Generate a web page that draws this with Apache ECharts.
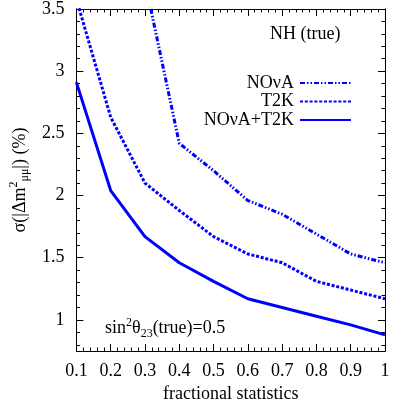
<!DOCTYPE html>
<html>
<head>
<meta charset="utf-8">
<script src="https://cdn.jsdelivr.net/npm/echarts@6/dist/echarts.min.js"></script>
<style>
  html, body { margin: 0; padding: 0; background: #fff; }
  #chart { width: 407px; height: 409px; }
</style>
</head>
<body>
<div id="chart"></div>
<script>
// fractional statistics (x)
const fracStats = [0.1, 0.2, 0.3, 0.4, 0.5, 0.6, 0.7, 0.8, 0.9, 1.0];
// sigma(|dm2_mumu|) in % per experiment setup
const novaVals = [null, null, 3.72, 2.42, 2.2, 1.96, 1.85, 1.69, 1.53, 1.46];
const t2kVals = [3.58, 2.63, 2.1, 1.88, 1.67, 1.53, 1.46, 1.31, 1.24, 1.17];
const combVals = [2.91, 2.04, 1.67, 1.46, 1.31, 1.17, 1.1, 1.03, 0.96, 0.88];
const seriesNames = ['NOνA', 'T2K', 'NOνA+T2K'];
// tick values
const yMajor = [1, 1.5, 2, 2.5, 3, 3.5];
const yMinor = [0.8, 0.9, 1.1, 1.2, 1.3, 1.4, 1.6, 1.7, 1.8, 1.9, 2.1, 2.2, 2.3, 2.4,
  2.6, 2.7, 2.8, 2.9, 3.1, 3.2, 3.3, 3.4];

const font = 'Liberation Serif';
const fs = 18;
const blue = '#0000ff';

function pairs(vals) {
  return fracStats.map((x, i) => [x, vals[i]]);
}

function yAx(pos, ticks, len, labels) {
  return {
    type: 'value', position: pos, min: 0.75, max: 3.5,
    axisLine: { show: true, lineStyle: { color: '#000', width: 1 } },
    axisTick: { show: true, inside: true, length: len, customValues: ticks, lineStyle: { color: '#000' } },
    axisLabel: labels ? { show: true, customValues: ticks, margin: 12, fontFamily: font, fontSize: fs, color: '#000' } : { show: false },
    splitLine: { show: false }
  };
}

let myChart = echarts.init(document.getElementById('chart'));
myChart.setOption({
  animation: false,
  grid: { left: 69, right: 22, top: 9, bottom: 58 },
  xAxis: [
    {
      type: 'value', position: 'bottom', min: 0.1, max: 1, interval: 0.1,
      name: 'fractional statistics', nameLocation: 'middle', nameGap: 31,
      nameTextStyle: { fontFamily: font, fontSize: fs, color: '#000' },
      axisLine: { lineStyle: { color: '#000' } },
      axisTick: { inside: true, length: 7, lineStyle: { color: '#000' } },
      minorTick: { show: true, splitNumber: 5, length: 3.5, lineStyle: { color: '#000' } },
      axisLabel: { margin: 11, fontFamily: font, fontSize: fs, color: '#000' },
      splitLine: { show: false }
    },
    {
      type: 'value', position: 'top', min: 0.1, max: 1, interval: 0.1,
      axisLine: { show: true, lineStyle: { color: '#000' } },
      axisTick: { inside: true, length: 7, lineStyle: { color: '#000' } },
      minorTick: { show: true, splitNumber: 5, length: 3.5, lineStyle: { color: '#000' } },
      axisLabel: { show: false },
      splitLine: { show: false }
    }
  ],
  yAxis: [
    Object.assign(yAx('left', yMajor, 7, true), {
      name: '{t|σ(|Δm}{sup|2}{sub|μμ}{t||) (%)}',
      nameLocation: 'middle', nameRotate: 90, nameGap: 44,
      nameTextStyle: {
        fontFamily: font, fontSize: fs, color: '#000',
        rich: {
          t: { fontFamily: font, fontSize: fs, color: '#000' },
          sup: { fontFamily: font, fontSize: 12, color: '#000', padding: [0, 0, 12, 0] },
          sub: { fontFamily: font, fontSize: 12, color: '#000', padding: [10, 0, 0, 0] }
        }
      }
    }),
    yAx('right', yMajor, 7, false),
    yAx('left', yMinor, 3.5, false),
    yAx('right', yMinor, 3.5, false)
  ],
  legend: {
    orient: 'vertical', align: 'right', right: 50, top: 69,
    itemWidth: 51, itemHeight: 10, itemGap: 0.5,
    itemStyle: { opacity: 0 },
    textStyle: { fontFamily: font, fontSize: fs, color: '#000', lineHeight: 18, padding: [0, 1, 0, 0] },
    data: seriesNames
  },
  graphic: [
    {
      type: 'text', left: 270, top: 25,
      style: { text: 'NH (true)', font: fs + 'px "Liberation Serif"', fill: '#000' }
    },
    {
      type: 'text', left: 105, top: 317,
      style: {
        text: '{t|sin}{sup|2}{t|θ}{sub|23}{t|(true)=0.5}',
        rich: {
          t: { fontFamily: font, fontSize: fs, fill: '#000' },
          sup: { fontFamily: font, fontSize: 12, fill: '#000', padding: [0, 0, 11, 0] },
          sub: { fontFamily: font, fontSize: 12, fill: '#000', padding: [10, 0, 0, 0] }
        }
      }
    }
  ],
  series: [
    {
      name: seriesNames[0], type: 'line', data: pairs(novaVals), symbol: 'none',
      lineStyle: { color: blue, width: 3, type: [5, 2, 1.5, 2, 1.5, 2] },
      itemStyle: { color: blue }
    },
    {
      name: seriesNames[1], type: 'line', data: pairs(t2kVals), symbol: 'none',
      lineStyle: { color: blue, width: 3, type: [3, 1.8] },
      itemStyle: { color: blue }
    },
    {
      name: seriesNames[2], type: 'line', data: pairs(combVals), symbol: 'none',
      lineStyle: { color: blue, width: 3, type: 'solid' },
      itemStyle: { color: blue }
    }
  ]
});
</script>
</body>
</html>
